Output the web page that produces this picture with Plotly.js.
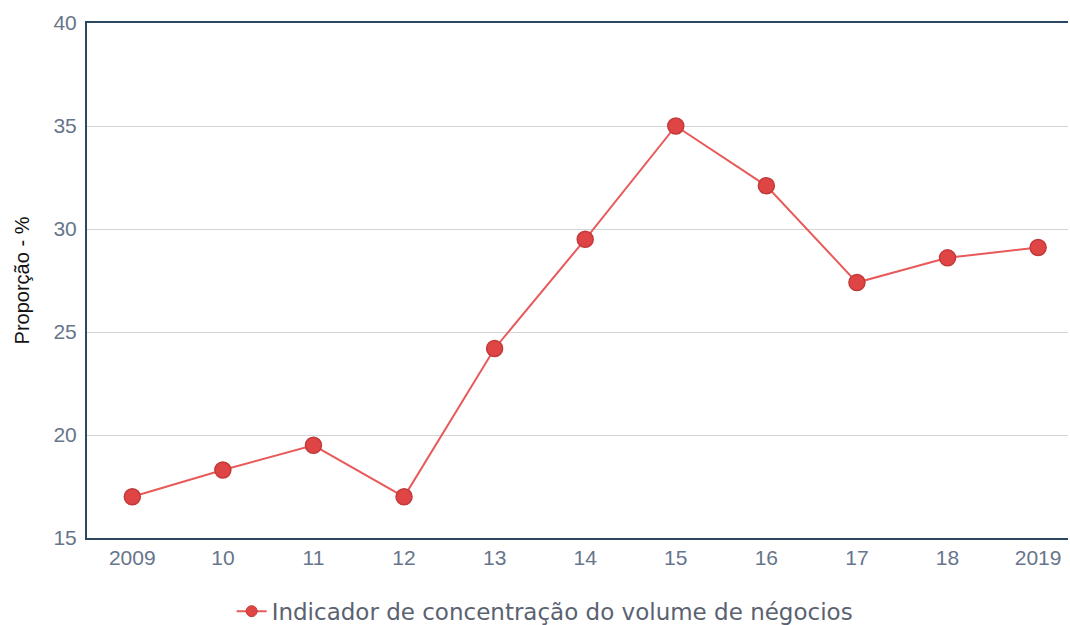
<!DOCTYPE html>
<html>
<head>
<meta charset="utf-8">
<script src="https://cdn.plot.ly/plotly-3.0.1.min.js"></script>
<style>html,body{margin:0;padding:0;background:#fff;}#chart{width:1070px;height:625px;}</style>
</head>
<body>
<div id="chart"></div>
<script>
var years = ["2009","10","11","12","13","14","15","16","17","18","2019"];
var values = [17.0, 18.3, 19.5, 17.0, 24.2, 29.5, 35.0, 32.1, 27.4, 28.6, 29.1];
var seriesName = "Indicador de concentração do volume de négocios";
var yTicks = [15, 20, 25, 30, 35, 40];

var trace = {
  x: years,
  y: values,
  type: "scatter",
  mode: "lines+markers",
  name: seriesName,
  showlegend: false,
  line: {color: "#e85a5a", width: 2},
  marker: {color: "#e04545", size: 16, line: {color: "#c23a3a", width: 1.5}}
};
var legendProxy = {
  x: [null], y: [null],
  type: "scatter",
  mode: "lines+markers",
  name: seriesName,
  showlegend: true,
  line: {color: "#e85a5a", width: 2},
  marker: {color: "#e04545", size: 11, line: {color: "#c23a3a", width: 1}}
};

var layout = {
  width: 1070,
  height: 625,
  margin: {l: 87, r: 2, t: 23, b: 87},
  paper_bgcolor: "#ffffff",
  plot_bgcolor: "#ffffff",
  showlegend: true,
  legend: {
    orientation: "h",
    xref: "container", yref: "container",
    x: 0.509, xanchor: "center",
    y: 0.022, yanchor: "middle",
    font: {family: "DejaVu Sans, sans-serif", size: 23, color: "#5a6270"}
  },
  xaxis: {
    type: "category",
    range: [-0.5, 10.33],
    showline: true, linecolor: "#2c4760", linewidth: 2, mirror: true,
    showgrid: false, zeroline: false,
    ticks: "", ticklen: 0,
    ticklabelstandoff: 0,
    tickfont: {family: "Arial, Liberation Sans, sans-serif", size: 21, color: "#66758a"}
  },
  yaxis: {
    range: [15, 40],
    tickvals: yTicks,
    showline: true, linecolor: "#2c4760", linewidth: 2,
    showgrid: true, gridcolor: "#d4d4d4", gridwidth: 1,
    zeroline: false, ticks: "",
    ticklabelstandoff: 4,
    tickfont: {family: "Arial, Liberation Sans, sans-serif", size: 21, color: "#66758a"},
    title: {text: "Proporção - %", font: {family: "Arial, Liberation Sans, sans-serif", size: 20, color: "#111"}, standoff: 18}
  }
};

Plotly.newPlot("chart", [trace, legendProxy], layout, {displayModeBar: false, staticPlot: true});
</script>
</body>
</html>
